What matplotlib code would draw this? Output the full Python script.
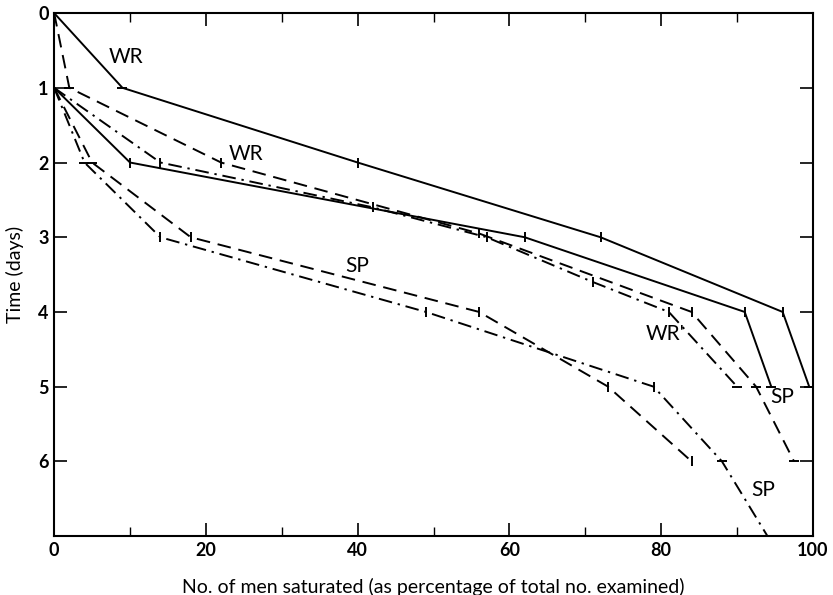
import numpy as np
import matplotlib
matplotlib.use("Agg")
import matplotlib.pyplot as plt
from matplotlib.ticker import MultipleLocator

plt.rcParams['font.family'] = ['Lato', 'DejaVu Sans']

# ---- data (x = % of men saturated, y = time in days) ----
wr_solid_x = [0, 9, 40, 72, 96, 99.5]
wr_solid_y = [0, 1, 2, 3, 4, 5]

sp_solid_x = [0, 10, 62, 91, 94.5]
sp_solid_y = [1, 2, 3, 4, 5]

wr_dash_x = [0, 2, 22, 56, 84, 92.5, 97.5]
wr_dash_y = [0, 1, 2, 2.95, 4, 5, 6]

wrp_dashdot_x = [0, 14, 42, 57, 71, 81, 90]
wrp_dashdot_y = [1, 2, 2.6, 3, 3.6, 4, 5]

sp_dash_x = [0, 5, 18, 56, 73, 84]
sp_dash_y = [1, 2, 3, 4, 5, 6]

sp_dashdot_x = [0, 4, 14, 49, 79, 88, 94]
sp_dashdot_y = [1, 2, 3, 4, 5, 6, 7]

labels = ["WR", "WR", "SP", "WR'", "SP", "SP"]
label_x = [9.5, 25.3, 40, 80.5, 95.9, 93.4]
label_y = [0.59, 1.88, 3.38, 4.29, 5.14, 6.38]

x_ticks = [0, 20, 40, 60, 80, 100]
y_ticks = [0, 1, 2, 3, 4, 5, 6]

fig = plt.figure(figsize=(8.33, 5.95), dpi=100)
ax = fig.add_axes([0.065, 0.099, 0.911, 0.879])
ax.set_xlim(0, 100)
ax.set_ylim(7, 0)

dash = (0, (7, 4))
dashdot = (0, (7, 3, 1.2, 3))
series = [
    (wr_solid_x, wr_solid_y, '-'),
    (sp_solid_x, sp_solid_y, '-'),
    (wr_dash_x, wr_dash_y, dash),
    (wrp_dashdot_x, wrp_dashdot_y, dashdot),
    (sp_dash_x, sp_dash_y, dash),
    (sp_dashdot_x, sp_dashdot_y, dashdot),
]

for xs, ys, ls in series:
    ax.plot(xs, ys, color='black', lw=1.4, linestyle=ls, zorder=3)
    pts = ax.transData.transform(np.column_stack([xs, ys]))
    for i in range(1, len(xs)):
        d = pts[i] - pts[i - 1]
        steep = abs(d[1]) > abs(d[0])
        ax.plot([xs[i]], [ys[i]], linestyle='none', marker='_' if steep else '|',
                markersize=7, markeredgewidth=1.4, color='black', zorder=4)

for t, lx, ly in zip(labels, label_x, label_y):
    ax.text(lx, ly, t, fontsize=15, ha='center', va='center', color='black', zorder=5)

ax.set_xticks(x_ticks)
ax.set_yticks(y_ticks)
ax.xaxis.set_minor_locator(MultipleLocator(10))
ax.tick_params(axis='both', which='major', direction='in', length=9.5, width=1.2,
               top=True, right=True, labelsize=13, pad=4, colors='black')
ax.tick_params(axis='x', which='minor', direction='in', length=6.5, width=1.0,
               top=True, bottom=True)
for lab in ax.get_xticklabels() + ax.get_yticklabels():
    lab.set_fontweight('bold')

for sp in ax.spines.values():
    sp.set_linewidth(1.5)
    sp.set_color('black')

ax.set_xlabel("No. of men saturated (as percentage of total no. examined)",
              fontsize=14, labelpad=14)
ax.set_ylabel("Time (days)", fontsize=14, labelpad=10)

fig.savefig("out.png", dpi=100, facecolor='white')
